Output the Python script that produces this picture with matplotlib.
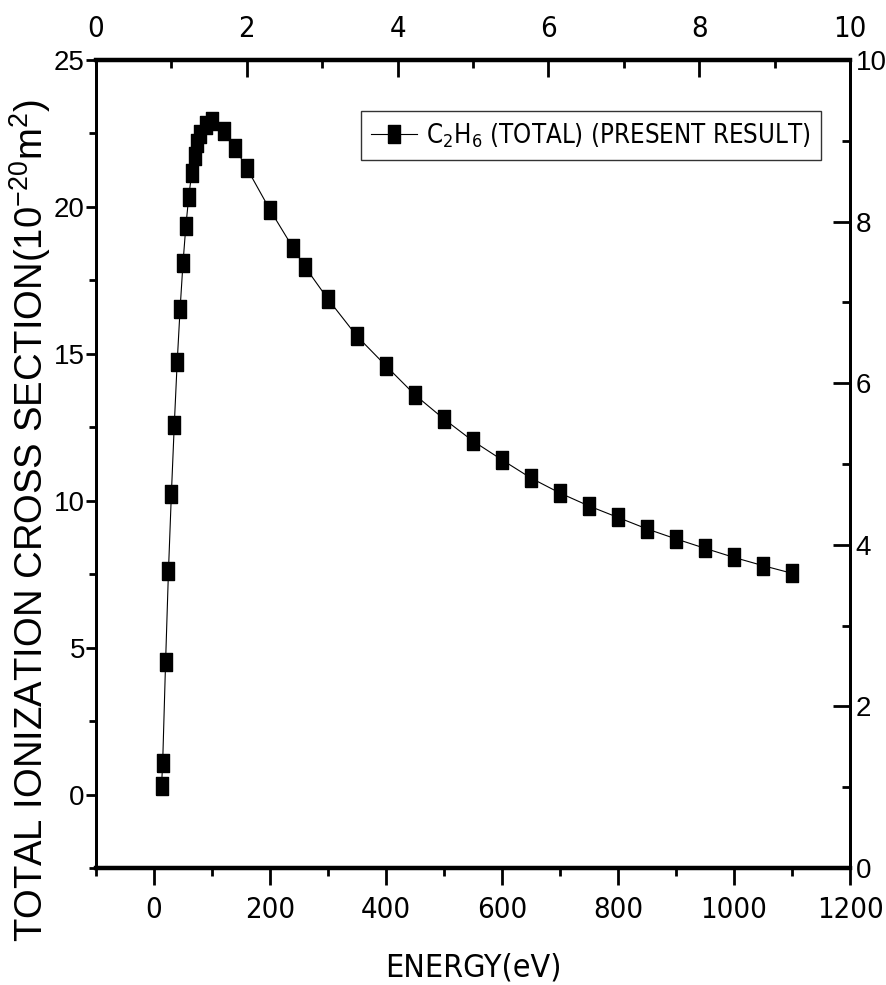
import matplotlib
matplotlib.use("Agg")
import matplotlib.pyplot as plt
from matplotlib.ticker import MultipleLocator
from matplotlib import font_manager

# C2H6 total ionization cross section
energy = [13, 15, 20, 25, 30, 35, 40, 45, 50, 55, 60, 65, 70, 75, 80, 90, 100,
          120, 140, 160, 200, 240, 260, 300, 350, 400, 450, 500, 550, 600,
          650, 700, 750, 800, 850, 900, 950, 1000, 1050, 1100]
sigma = [0.28, 1.08, 4.50, 7.62, 10.23, 12.58, 14.71, 16.52, 18.08, 19.36,
         20.35, 21.15, 21.72, 22.18, 22.49, 22.80, 22.91, 22.57, 22.00, 21.32,
         19.90, 18.60, 17.97, 16.86, 15.60, 14.59, 13.60, 12.78, 12.03, 11.39,
         10.77, 10.26, 9.82, 9.43, 9.04, 8.70, 8.38, 8.07, 7.79, 7.53]
top_ticks = [0, 2, 4, 6, 8, 10]
right_ticks = [0, 2, 4, 6, 8, 10]

arial = ['Liberation Sans', 'DejaVu Sans']
narrow = font_manager.FontProperties(family='DejaVu Sans', stretch='condensed', size=21)

fig = plt.figure(figsize=(8.87, 9.85), dpi=100)
ax = fig.add_axes([0.1082, 0.1188, 0.8501, 0.8203])

box = [(-0.33, -0.5), (0.33, -0.5), (0.33, 0.5), (-0.33, 0.5), (-0.33, -0.5)]
ax.plot(energy, sigma, color='black', lw=0.8, marker=box, ms=13.5,
        mfc='black', mec='black',
        label=r'C$_\mathregular{2}$H$_\mathregular{6}$ (TOTAL) (PRESENT RESULT)')

ax.set_xlim(-100, 1200)
ax.set_ylim(-2.5, 25)
ax.xaxis.set_major_locator(MultipleLocator(200))
ax.xaxis.set_minor_locator(MultipleLocator(100))
ax.yaxis.set_major_locator(MultipleLocator(5))
ax.yaxis.set_minor_locator(MultipleLocator(2.5))
ax.tick_params(axis='x', which='major', direction='out', length=12, width=2, pad=8)
ax.tick_params(axis='x', which='minor', direction='out', length=6, width=2)
ax.tick_params(axis='y', which='major', direction='out', length=7, width=2,
               labelsize=20, pad=1)
ax.tick_params(axis='y', which='minor', direction='out', length=5, width=2)
for lab in ax.get_xticklabels():
    lab.set_fontproperties(narrow)
for lab in ax.get_yticklabels():
    lab.set_family(arial)

ax.set_xlabel('ENERGY(eV)', fontproperties=narrow, fontsize=23)
ax.xaxis.set_label_coords(0.5, -0.105)
ax.set_ylabel(r'TOTAL IONIZATION CROSS SECTION(10$^\mathregular{-20}$m$^\mathregular{2}$)',
              fontsize=27.5, family=arial)
ax.yaxis.set_label_coords(-0.057, 0.43)

# top axis
axt = ax.twiny()
axt.set_xlim(0, 10)
axt.set_xticks(top_ticks)
axt.xaxis.set_minor_locator(MultipleLocator(1))
axt.tick_params(which='major', direction='in', length=12, width=2, pad=12)
axt.tick_params(which='minor', direction='in', length=6, width=2)
for lab in axt.get_xticklabels():
    lab.set_fontproperties(narrow)

# right axis
axr = ax.twinx()
axr.set_ylim(0, 10)
axr.set_yticks(right_ticks)
axr.yaxis.set_minor_locator(MultipleLocator(1))
axr.tick_params(which='major', direction='in', length=12, width=2, labelsize=20, pad=4)
axr.tick_params(which='minor', direction='in', length=6, width=2)
for lab in axr.get_yticklabels():
    lab.set_family(arial)

for a in (ax, axt, axr):
    a.spines['top'].set_linewidth(3)
    a.spines['bottom'].set_linewidth(3)
    a.spines['left'].set_linewidth(2)
    a.spines['right'].set_linewidth(2)

legprop = font_manager.FontProperties(family='DejaVu Sans', stretch='condensed', size=18.5)
leg = ax.legend(loc='upper right', bbox_to_anchor=(0.962, 0.937),
                prop=legprop, frameon=True, fancybox=False,
                handlelength=1.8, handletextpad=0.35, borderpad=0.4,
                borderaxespad=0)
leg.get_frame().set_edgecolor('black')
leg.get_frame().set_linewidth(1)

fig.savefig('out.png', dpi=100)
